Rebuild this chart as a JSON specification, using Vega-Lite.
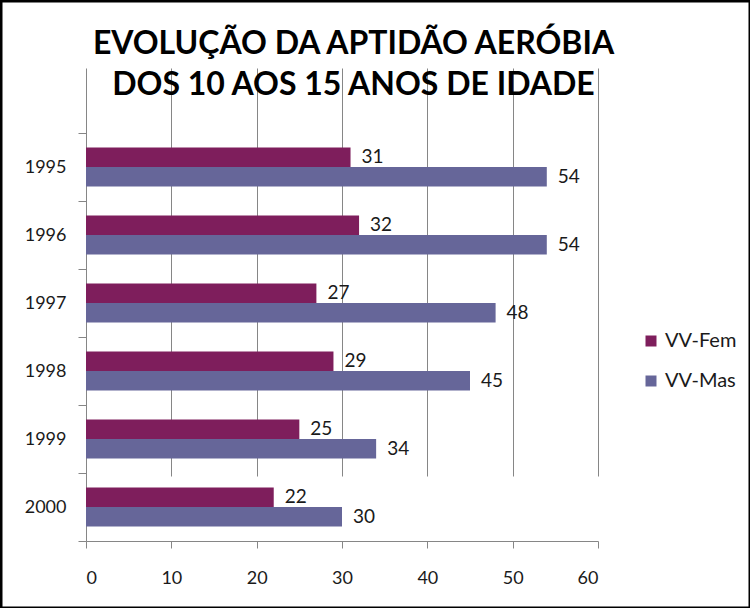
{
  "$schema": "https://vega.github.io/schema/vega-lite/v6.json",
  "width": 749,
  "height": 607,
  "autosize": {"type": "none"},
  "padding": {"left": 1, "top": 1, "right": 0, "bottom": 0},
  "background": "white",
  "config": {
    "view": {"stroke": "black", "strokeWidth": 3},
    "font": "Lato"
  },
  "title": {
    "text": ["EVOLUÇÃO DA APTIDÃO AERÓBIA", "DOS 10 AOS 15 ANOS DE IDADE"],
    "font": "Lato",
    "fontSize": 32,
    "fontWeight": "bold",
    "color": "black",
    "lineHeight": 41,
    "anchor": "middle",
    "frame": "group",
    "dx": -22,
    "offset": -110
  },
  "data": {
    "values": [
      {"year": "1995", "series": "VV-Fem", "value": 31},
      {"year": "1995", "series": "VV-Mas", "value": 54},
      {"year": "1996", "series": "VV-Fem", "value": 32},
      {"year": "1996", "series": "VV-Mas", "value": 54},
      {"year": "1997", "series": "VV-Fem", "value": 27},
      {"year": "1997", "series": "VV-Mas", "value": 48},
      {"year": "1998", "series": "VV-Fem", "value": 29},
      {"year": "1998", "series": "VV-Mas", "value": 45},
      {"year": "1999", "series": "VV-Fem", "value": 25},
      {"year": "1999", "series": "VV-Mas", "value": 34},
      {"year": "2000", "series": "VV-Fem", "value": 22},
      {"year": "2000", "series": "VV-Mas", "value": 30}
    ]
  },
  "encoding": {
    "y": {
      "field": "year",
      "type": "nominal",
      "sort": ["1995", "1996", "1997", "1998", "1999", "2000"],
      "scale": {"range": [132, 540], "paddingInner": 0, "paddingOuter": 0},
      "axis": {
        "title": null,
        "orient": "left",
        "offset": -85,
        "tickBand": "extent",
        "tickSize": 8,
        "tickColor": "#868686",
        "domainColor": "#868686",
        "labelFont": "Lato",
        "labelFontSize": 18,
        "labelColor": "#1a1a1a",
        "labelPadding": 12,
        "grid": false
      }
    },
    "yOffset": {
      "field": "series",
      "type": "nominal",
      "sort": ["VV-Fem", "VV-Mas"],
      "scale": {"paddingInner": 0, "paddingOuter": 0.744}
    },
    "x": {
      "field": "value",
      "type": "quantitative",
      "scale": {"domain": [0, 60], "range": [85, 597], "nice": false},
      "axis": {
        "title": null,
        "orient": "bottom",
        "offset": -67,
        "values": [0, 10, 20, 30, 40, 50, 60],
        "tickSize": 7,
        "tickColor": "#868686",
        "domainColor": "#868686",
        "gridColor": "#868686",
        "gridOpacity": 1,
        "grid": true,
        "labelFont": "Lato",
        "labelFontSize": 18,
        "labelColor": "#1a1a1a",
        "labelPadding": 21
      }
    }
  },
  "layer": [
    {
      "mark": {"type": "bar"},
      "encoding": {
        "color": {
          "field": "series",
          "type": "nominal",
          "sort": ["VV-Fem", "VV-Mas"],
          "scale": {"domain": ["VV-Fem", "VV-Mas"], "range": ["#7e1e5c", "#666699"]},
          "legend": {
            "title": null,
            "orient": "none",
            "legendX": 640,
            "legendY": 330,
            "symbolType": "square",
            "symbolSize": 121,
            "symbolStrokeWidth": 0,
            "labelFont": "Lato",
            "labelFontSize": 20,
            "labelColor": "#1a1a1a",
            "rowPadding": 20,
            "labelOffset": 4,
            "padding": 0
          }
        }
      }
    },
    {
      "mark": {"type": "text", "align": "left", "baseline": "middle", "dx": 11, "font": "Lato", "fontSize": 19, "color": "#1a1a1a"},
      "encoding": {
        "text": {"field": "value", "type": "quantitative"}
      }
    }
  ]
}
